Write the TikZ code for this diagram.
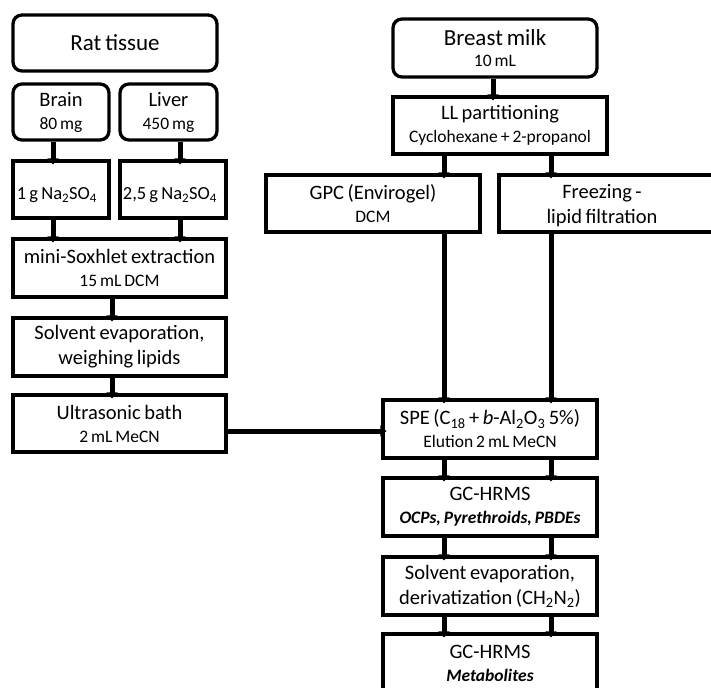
\documentclass[tikz,border=0pt]{standalone}
\usepackage{fontspec}
\setmainfont[WordSpace=0.75]{Carlito}
\usetikzlibrary{arrows.meta}
\begin{document}
\begin{tikzpicture}[x=1pt,y=-1pt,
  box/.style={draw=black, line width=3.3pt, fill=white, align=center, inner sep=0pt,
    font=\fontsize{20.5}{25}\selectfont},
  rbox/.style={box, rounded corners=9pt},
  txt/.style={align=center, inner sep=0pt, font=\fontsize{20.5}{25}\selectfont},
  arr/.style={line width=5pt, -{Triangle[width=11pt,length=6pt]}, shorten >=-5pt}]
\useasboundingbox (0,0) rectangle (711,687);
\clip (0,0) rectangle (711,687);
\newcommand{\sm}{\fontsize{17.5}{22}\selectfont}
% left column
\node[rbox, minimum width=204, minimum height=56, font=\fontsize{23}{28}\selectfont] (rat) at (115,43) {Rat tissue};
\node[rbox, minimum width=96, minimum height=56] (brain) at (61,112) {Brain\\[-2pt]{\sm 80 mg}};
\node[rbox, minimum width=97, minimum height=56] (liver) at (168.5,112) {Liver\\[-2pt]{\sm 450 mg}};
\node[box, minimum width=96, minimum height=57] (na1) at (61,189.5) {};
\node[txt, font=\fontsize{18.5}{22}\selectfont] (na1t) at (57,195) {1 g Na\textsubscript{2}SO\textsubscript{4}};
\node[box, minimum width=106, minimum height=57] (na2) at (173,189.5) {};
\node[txt, font=\fontsize{18.5}{22}\selectfont] (na2t) at (170,195) {2,5 g Na\textsubscript{2}SO\textsubscript{4}};
\node[box, minimum width=213, minimum height=58] (sox) at (119.5,268) {mini-Soxhlet extraction\\[-2pt]{\sm 15 mL DCM}};
\node[box, minimum width=213, minimum height=58] (solv1) at (119.5,347) {Solvent evaporation,\\weighing lipids};
\node[box, minimum width=213, minimum height=57] (ultra) at (119.5,423.5) {Ultrasonic bath\\[-2pt]{\sm 2 mL MeCN}};
% right part
\node[rbox, minimum width=204, minimum height=58] (milk) at (495,48) {{\fontsize{23}{28}\selectfont Breast milk}\\[-4pt]{\sm 10 mL}};
\node[box, minimum width=214, minimum height=57] (ll) at (500,125.5) {LL partitioning\\[-2pt]{\sm Cyclohexane + 2-propanol}};
\node[box, minimum width=214, minimum height=57] (gpc) at (373,203.5) {GPC (Envirogel)\\[-2pt]{\sm DCM}};
\node[box, minimum width=222, minimum height=57] (frz) at (610,203.5) {};
\node[txt] (frzt) at (602,206) {Freezing -\\lipid filtration};
\node[box, minimum width=214, minimum height=58] (spe) at (490,429) {SPE (C\textsubscript{18} + \textit{b}-Al\textsubscript{2}O\textsubscript{3} 5\%)\\[-2pt]{\sm Elution 2 mL MeCN}};
\node[box, minimum width=214, minimum height=58] (gc1) at (490,507) {GC-HRMS\\[-2pt]{\sm\bfseries\itshape OCPs, Pyrethroids, PBDEs}};
\node[box, minimum width=214, minimum height=58] (solv2) at (490,586) {Solvent evaporation,\\derivatization (CH\textsubscript{2}N\textsubscript{2})};
\node[box, minimum width=214, minimum height=58] (gc2) at (490,663) {GC-HRMS\\[-2pt]{\sm\bfseries\itshape Metabolites}};
% connector columns
\coordinate (xa) at (53,0);
\coordinate (xb) at (180,0);
\coordinate (xc) at (112,0);
\coordinate (xd) at (493,0);
\coordinate (xe) at (444,0);
\coordinate (xf) at (551,0);
\coordinate (ya) at (0,431);
\draw[arr] (brain.south -| xa) -- (na1.north -| xa);
\draw[arr] (liver.south -| xb) -- (na2.north -| xb);
\draw[arr] (na1.south -| xa) -- (sox.north -| xa);
\draw[arr] (na2.south -| xb) -- (sox.north -| xb);
\draw[arr] (sox.south -| xc) -- (solv1.north -| xc);
\draw[arr] (solv1.south -| xc) -- (ultra.north -| xc);
\draw[arr] (ultra.east |- ya) -- (spe.west |- ya);
\draw[arr] (milk.south -| xd) -- (ll.north -| xd);
\draw[arr] (ll.south -| xe) -- (gpc.north -| xe);
\draw[arr] (ll.south -| xf) -- (frz.north -| xf);
\draw[arr] (gpc.south -| xe) -- (spe.north -| xe);
\draw[arr] (frz.south -| xf) -- (spe.north -| xf);
\draw[arr] (spe.south -| xe) -- (gc1.north -| xe);
\draw[arr] (spe.south -| xf) -- (gc1.north -| xf);
\draw[arr] (gc1.south -| xe) -- (solv2.north -| xe);
\draw[arr] (gc1.south -| xf) -- (solv2.north -| xf);
\draw[arr] (solv2.south -| xe) -- (gc2.north -| xe);
\draw[arr] (solv2.south -| xf) -- (gc2.north -| xf);
\end{tikzpicture}
\end{document}
